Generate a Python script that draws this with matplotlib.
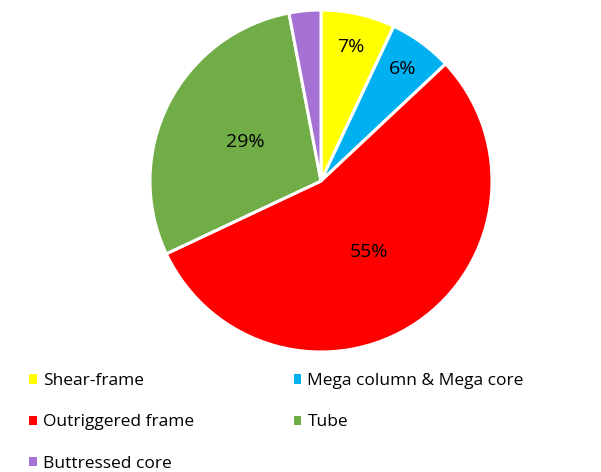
import matplotlib
matplotlib.use("Agg")
import matplotlib.pyplot as plt
import numpy as np
from matplotlib.patches import Patch

labels = ["Shear-frame", "Mega column & Mega core", "Outriggered frame", "Tube", "Buttressed core"]
shares = [7, 6, 55, 29, 3]
colors = ["#FFFF00", "#00B0F0", "#FF0000", "#70AD47", "#A571D2"]
# label distance from centre for each slice (None = no label)
label_radius = [0.8, 0.81, 0.5, 0.5, None]

plt.rcParams["font.family"] = ["Open Sans", "DejaVu Sans"]

fig = plt.figure(figsize=(6.01, 4.72), dpi=100)
cx, cy, r = 321 / 601, 1 - 181 / 472, 171
ax = fig.add_axes([cx - r / 601, cy - r / 472, 2 * r / 601, 2 * r / 472])

wedges, _ = ax.pie(shares, colors=colors, startangle=90, counterclock=False,
                   radius=1, wedgeprops=dict(edgecolor="white", linewidth=2.2))
ax.set_xlim(-1, 1)
ax.set_ylim(-1, 1)

total = sum(shares)
start = 90.0
for share, rad in zip(shares, label_radius):
    sweep = 360.0 * share / total
    mid = np.deg2rad(start - sweep / 2)
    start -= sweep
    if rad is None:
        continue
    ax.text(rad * np.cos(mid), rad * np.sin(mid), f"{share}%",
            ha="center", va="center", fontsize=14, color="black")

# legend fills column-wise, so order entries to read row by row
order = [0, 2, 4, 1, 3]
handles = [Patch(facecolor=colors[i], edgecolor="none") for i in order]
fig.legend(handles, [labels[i] for i in order], loc="upper left",
           bbox_to_anchor=(0.037, 0.224), ncol=2, frameon=False, fontsize=12.5,
           handlelength=0.45, handleheight=0.45, handletextpad=0.35,
           columnspacing=5.72, labelspacing=1.45, borderaxespad=0)

fig.savefig("out.png", dpi=100)
